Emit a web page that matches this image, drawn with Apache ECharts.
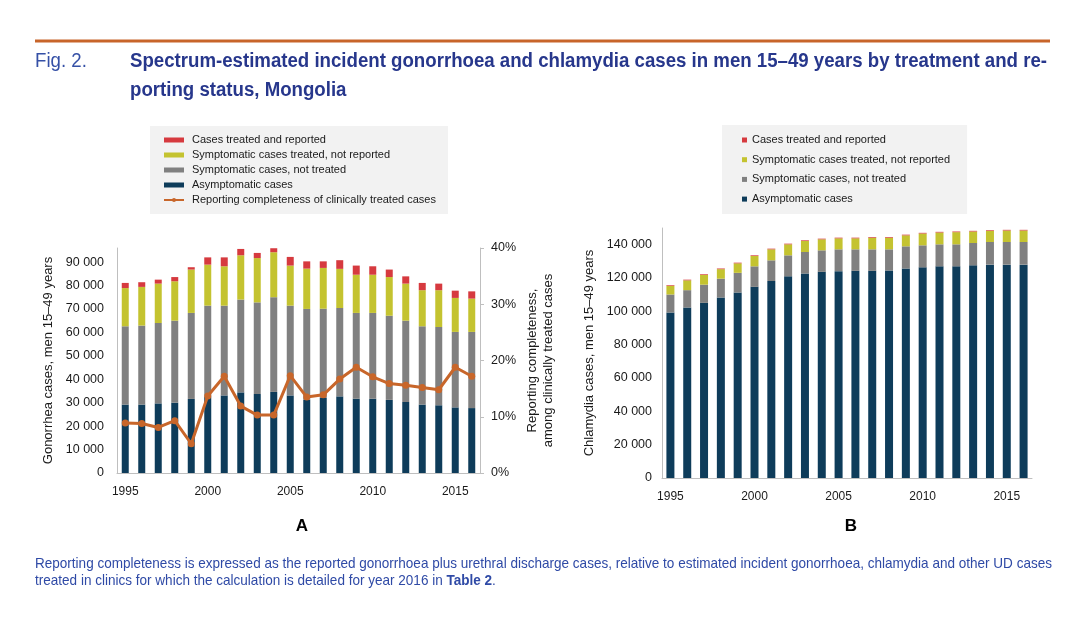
<!DOCTYPE html>
<html>
<head>
<meta charset="utf-8">
<script src="https://cdn.jsdelivr.net/npm/echarts@6/dist/echarts.min.js"></script>
<style>html,body{margin:0;padding:0;background:#fff}#c{width:1087px;height:628px}</style>
</head>
<body>
<div id="c"></div>
<script>
// ---- Data ----
const years = ['1995','1996','1997','1998','1999','2000','2001','2002','2003','2004','2005','2006','2007','2008','2009','2010','2011','2012','2013','2014','2015','2016'];

// Panel A: gonorrhoea (cases)
const gAsym      = [29200,29200,29700,30000,31600,32700,33100,34400,33700,34600,33100,31300,32000,32700,31700,31700,31200,30300,29200,28900,28000,27700];
const gSymNotTr  = [33400,33700,34300,35000,36700,38700,38300,39600,39100,40400,38300,38700,38100,37700,36600,36600,35900,34700,33400,33400,32200,32500];
const gTrNotRep  = [16300,16500,16800,16800,18500,17500,16800,18900,18900,19200,17100,17200,17400,16700,16300,16300,16500,15800,15400,15700,14500,14200];
const gReported  = [2200,2000,1700,1800,1000,3100,3800,2700,2200,1700,3700,3100,2800,3700,3900,3600,3200,3100,3100,2800,3100,3100];
const gComplete  = [0.089,0.088,0.081,0.093,0.052,0.137,0.172,0.119,0.103,0.103,0.173,0.135,0.139,0.167,0.188,0.171,0.159,0.156,0.152,0.148,0.188,0.172];

// Panel B: chlamydia (cases)
const cAsym      = [99300,102300,105100,108300,111300,114700,118200,121000,122700,123700,124100,124300,124300,124500,125700,126400,127000,127000,127600,128000,128000,128000];
const cSymNotTr  = [10800,10400,10900,11300,11800,12300,12400,12600,12900,12900,13100,12900,12900,12700,13300,13200,13200,13200,13400,13600,13600,13600];
const cTrNotRep  = [5200,5900,5900,5700,5700,6200,6600,6600,6600,6600,6600,6600,7000,7000,6600,7100,7100,7300,6900,6700,6900,6900];
const cReported  = [400,400,400,400,400,400,400,400,400,400,400,400,400,400,400,400,400,400,400,400,400,400];

const leftTicksA = {min:0, max:96000, interval:10000};
const rightTicksA = {min:0, max:0.4, interval:0.1};
const leftTicksB = {min:0, max:150000, interval:20000};

// ---- Texts ----
const FIG_LABEL = 'Fig. 2.';
const TITLE_1 = 'Spectrum-estimated incident gonorrhoea and chlamydia cases in men 15\u201349 years by treatment and re-';
const TITLE_2 = 'porting status, Mongolia';
const NOTE_1 = 'Reporting completeness is expressed as the reported gonorrhoea plus urethral discharge cases, relative to estimated incident gonorrhoea, chlamydia and other UD cases';
const NOTE_2a = 'treated in clinics for which the calculation is detailed for year 2016 in ';
const NOTE_2b = 'Table 2';
const NOTE_2c = '.';

// ---- Names / colours ----
const N_REP = 'Cases treated and reported';
const N_TR  = 'Symptomatic cases treated, not reported';
const N_NT  = 'Symptomatic cases, not treated';
const N_AS  = 'Asymptomatic cases';
const N_LN  = 'Reporting completeness of clinically treated cases';
const C_REP = '#d63a3f', C_TR = '#c4c330', C_NT = '#808080', C_AS = '#0e3c5a', C_LN = '#c8662a';

const fmtThousands = v => String(v).replace(/\B(?=(\d{3})+(?!\d))/g, '\u00a0');
const AXIS_FONT = 'Liberation Sans, Arial, sans-serif';
const TXT = '#1a1a1a';
const HEAD_FONT = '"Liberation Sans", Arial, sans-serif';

// measure text to emulate the condensed typeface by horizontal scaling
const mctx = document.createElement('canvas').getContext('2d');
function tw(text, size, weight){ mctx.font = weight + ' ' + size + 'px "Liberation Sans", Arial, sans-serif'; return mctx.measureText(text).width; }

const T_SIZE = 20;
const titleScale = 917 / tw(TITLE_1, T_SIZE, 'bold');
const N_SIZE = 14.5;
const noteScale = 1017 / tw(NOTE_1, N_SIZE, 'normal');

const chart = echarts.init(document.getElementById('c'), null, {renderer:'canvas'});

function xAxis(gridIndex){
  return {
    type:'category', gridIndex, data: years,
    axisLine:{show:true, lineStyle:{color:'#bfbfbf', width:1}},
    axisTick:{show:false},
    axisLabel:{interval:4, color:TXT, fontSize:12, fontFamily:AXIS_FONT, margin:13}
  };
}
function barSeries(name, data, color, xi, yi, stack, bw){
  return {name, type:'bar', stack, data, xAxisIndex:xi, yAxisIndex:yi, barWidth:bw,
    itemStyle:{color}, emphasis:{disabled:true}, animation:false};
}
function gtext(text, x, y, size, weight, color, sx, rich){
  const st = {text, x:0, y:0, fontSize:size, fontWeight:weight, fontFamily:HEAD_FONT, fill:color, verticalAlign:'middle', align:'left'};
  if (rich) st.rich = rich;
  return {type:'text', x, y, scaleX:sx, scaleY:1, silent:true, style:st};
}

const option = {
  animation:false,
  backgroundColor:'#fff',
  textStyle:{fontFamily:AXIS_FONT},
  title:[
    {text:'A', left:297, top:521, textAlign:'center', textVerticalAlign:'middle', textStyle:{fontSize:17, fontWeight:'bold', color:'#000', fontFamily:AXIS_FONT}},
    {text:'B', left:846, top:521, textAlign:'center', textVerticalAlign:'middle', textStyle:{fontSize:17, fontWeight:'bold', color:'#000', fontFamily:AXIS_FONT}}
  ],
  graphic:[
    {type:'line', shape:{x1:35, y1:41, x2:1050, y2:41}, style:{stroke:'#c8652a', lineWidth:3}, silent:true},
    gtext(FIG_LABEL, 35, 61, T_SIZE, 'normal', '#3550a6', titleScale),
    gtext(TITLE_1, 130, 61, T_SIZE, 'bold', '#27378c', titleScale),
    gtext(TITLE_2, 130, 90, T_SIZE, 'bold', '#27378c', titleScale),
    gtext(NOTE_1, 35, 564, N_SIZE, 'normal', '#2f4aa6', noteScale),
    gtext(NOTE_2a + '{b|' + NOTE_2b + '}' + NOTE_2c, 35, 581, N_SIZE, 'normal', '#2f4aa6', noteScale,
      {b:{fontSize:N_SIZE, fontWeight:'bold', fontFamily:HEAD_FONT, fill:'#2f4aa6'}})
  ],
  legend:[
    {
      orient:'vertical', left:150, top:126, padding:[8,12,8,13], backgroundColor:'#f2f2f2',
      itemWidth:20, itemHeight:5, itemGap:3,
      textStyle:{fontSize:11, color:TXT, lineHeight:12, padding:[0,0,0,3], fontFamily:AXIS_FONT},
      selectedMode:false,
      data:[{name:N_REP, icon:'rect'},{name:N_TR, icon:'rect'},{name:N_NT, icon:'rect'},{name:N_AS, icon:'rect'},{name:N_LN}]
    },
    {
      orient:'vertical', left:722, top:125, padding:[9,17,9,20], backgroundColor:'#f2f2f2',
      itemWidth:5, itemHeight:5, itemGap:7.7,
      textStyle:{fontSize:11, color:TXT, lineHeight:12, fontFamily:AXIS_FONT},
      selectedMode:false,
      data:[{name:N_REP, icon:'rect'},{name:N_TR, icon:'rect'},{name:N_NT, icon:'rect'},{name:N_AS, icon:'rect'}]
    }
  ],
  grid:[
    {left:117, top:248, width:363, height:225, containLabel:false},
    {left:662, top:228, width:370, height:250, containLabel:false}
  ],
  xAxis:[xAxis(0), xAxis(1)],
  yAxis:[
    {type:'value', gridIndex:0, position:'left', min:leftTicksA.min, max:leftTicksA.max, interval:leftTicksA.interval,
      splitLine:{show:false}, axisLine:{show:true, lineStyle:{color:'#bfbfbf'}}, axisTick:{show:false},
      axisLabel:{color:TXT, fontSize:12.5, margin:13, showMaxLabel:false, formatter:fmtThousands},
      name:'Gonorrhea cases, men 15\u201349 years', nameLocation:'middle', nameRotate:90, nameGap:62,
      nameTextStyle:{fontSize:13, color:TXT}},
    {type:'value', gridIndex:0, position:'right', min:rightTicksA.min, max:rightTicksA.max, interval:rightTicksA.interval,
      splitLine:{show:false}, axisLine:{show:true, lineStyle:{color:'#bfbfbf'}},
      axisTick:{show:true, length:4, lineStyle:{color:'#bfbfbf'}},
      axisLabel:{color:TXT, fontSize:12.5, margin:11, formatter:v => Math.round(v*100)+'%'},
      name:'Reporting completeness,\namong clinically treated cases', nameLocation:'middle', nameRotate:90, nameGap:44,
      nameTextStyle:{fontSize:13, color:TXT, lineHeight:16, align:'center'}},
    {type:'value', gridIndex:1, position:'left', min:leftTicksB.min, max:leftTicksB.max, interval:leftTicksB.interval,
      splitLine:{show:false}, axisLine:{show:true, lineStyle:{color:'#bfbfbf'}}, axisTick:{show:false},
      axisLabel:{color:TXT, fontSize:12.5, margin:10, showMaxLabel:false, formatter:fmtThousands},
      name:'Chlamydia cases, men 15\u201349 years', nameLocation:'middle', nameRotate:90, nameGap:66,
      nameTextStyle:{fontSize:13, color:TXT}}
  ],
  series:[
    barSeries(N_AS, gAsym, C_AS, 0, 0, 'A', 7),
    barSeries(N_NT, gSymNotTr, C_NT, 0, 0, 'A', 7),
    barSeries(N_TR, gTrNotRep, C_TR, 0, 0, 'A', 7),
    barSeries(N_REP, gReported, C_REP, 0, 0, 'A', 7),
    {name:N_LN, type:'line', data:gComplete, xAxisIndex:0, yAxisIndex:1, z:5,
      symbol:'circle', symbolSize:7, lineStyle:{color:C_LN, width:3}, itemStyle:{color:C_LN},
      emphasis:{disabled:true}, animation:false},
    barSeries(N_AS, cAsym, C_AS, 1, 2, 'B', 8),
    barSeries(N_NT, cSymNotTr, C_NT, 1, 2, 'B', 8),
    barSeries(N_TR, cTrNotRep, C_TR, 1, 2, 'B', 8),
    barSeries(N_REP, cReported, C_REP, 1, 2, 'B', 8)
  ]
};
chart.setOption(option);
</script>
</body>
</html>
